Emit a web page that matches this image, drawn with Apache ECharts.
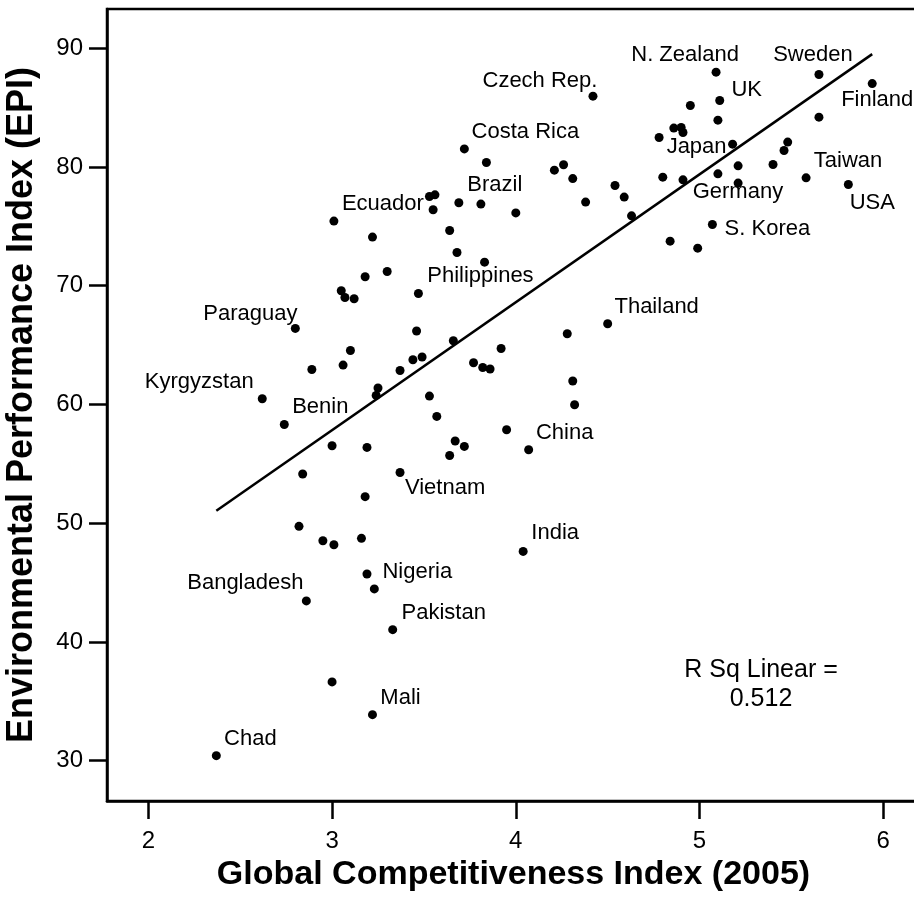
<!DOCTYPE html>
<html>
<head>
<meta charset="utf-8">
<script src="https://cdn.jsdelivr.net/npm/echarts@6/dist/echarts.min.js"></script>
<style>
  html, body { margin: 0; padding: 0; background: #fff; }
  #chart { width: 914px; height: 897px; }
</style>
</head>
<body>
<div id="chart"></div>
<script>
// labelled countries
const labeledNames = ["Chad", "Mali", "Pakistan", "Bangladesh", "Nigeria", "India", "Vietnam", "China",
  "Benin", "Kyrgyzstan", "Paraguay", "Thailand", "Philippines", "Ecuador", "Brazil", "Costa Rica",
  "S. Korea", "Germany", "USA", "Taiwan", "Japan", "UK", "Czech Rep.", "Finland", "Sweden", "N. Zealand"]
const labeledGci = [2.37, 3.22, 3.33, 2.86, 3.23, 4.04, 3.37, 4.07,
  2.74, 2.62, 2.80, 4.50, 3.47, 3.01, 3.69, 3.72,
  5.07, 5.10, 5.81, 5.58, 5.18, 5.11, 4.42, 5.94, 5.65, 5.09]
const labeledEpi = [30.42, 33.87, 41.03, 43.45, 44.46, 47.62, 54.27, 56.18,
  58.31, 60.48, 66.40, 66.79, 69.34, 75.44, 76.98, 81.52,
  75.15, 79.42, 78.52, 79.08, 81.92, 85.59, 85.96, 87.02, 87.78, 87.98]

// unlabelled countries
const otherGci = [3.00, 3.19, 3.01, 2.95, 3.16, 2.82, 3.18, 2.84, 3.64, 3.19,
  3.72, 3.00, 3.67, 3.95, 3.57, 4.32, 3.53, 3.24, 3.25, 4.31,
  2.89, 3.37, 3.86, 3.82, 3.06, 3.77, 3.44, 3.49, 3.10, 3.92,
  3.66, 4.28, 3.46, 3.12, 3.07, 3.05, 3.18, 3.30, 3.83, 3.68,
  4.99, 4.84, 3.22, 3.64, 4.63, 4.00, 3.55, 3.81, 4.38, 3.53,
  3.56, 4.59, 4.54, 5.21, 4.91, 4.31, 4.80, 4.21, 5.21, 4.26,
  5.40, 3.84, 5.46, 5.48, 4.78, 4.91, 4.86, 4.90, 5.10, 5.65,
  4.95]
const otherEpi = [36.63, 45.72, 48.18, 48.52, 48.72, 49.73, 52.23, 54.14, 55.70, 56.38,
  56.46, 56.52, 56.92, 57.87, 58.99, 59.97, 60.70, 60.76, 61.38, 61.97,
  62.94, 62.86, 62.98, 63.11, 63.31, 63.51, 63.76, 63.99, 64.54, 64.71,
  65.36, 65.95, 66.18, 68.90, 69.00, 69.57, 70.75, 71.19, 71.98, 72.79,
  73.16, 73.75, 74.09, 74.65, 75.88, 76.13, 76.39, 76.87, 77.04, 77.51,
  77.65, 77.46, 78.44, 78.64, 78.91, 79.02, 79.14, 79.73, 80.09, 80.18,
  80.20, 80.37, 81.38, 82.09, 82.48, 82.90, 83.27, 83.32, 83.94, 84.19,
  85.17]

// fit line end points
const fitGci = [2.37, 5.94]
const fitEpi = [51.05, 89.5]

const xTicks = [2, 3, 4, 5, 6]
const yTicks = [30, 40, 50, 60, 70, 80, 90]
const rSqText = "R Sq Linear =\n0.512"

// label placement, px from point centre
const labelOffsets = {
  "Chad": [34, -17], "Mali": [28, -17], "Pakistan": [51, -17], "Bangladesh": [-61, -18],
  "Nigeria": [43, -17], "India": [32, -18], "Vietnam": [45, 15], "China": [36, -17],
  "Benin": [36, -18], "Kyrgyzstan": [-63, -17], "Paraguay": [-45, -14], "Thailand": [49, -17],
  "Philippines": [62, -18], "Ecuador": [49, -17], "Brazil": [36, -18], "Costa Rica": [61, -17],
  "S. Korea": [55, 4], "Germany": [20, 18], "USA": [24, 18], "Taiwan": [42, -17],
  "Japan": [-36, 3], "UK": [27, -11], "Czech Rep.": [-53, -15], "Finland": [5, 16],
  "Sweden": [-6, -20], "N. Zealand": [-31, -17],
}

const font = "'Liberation Sans', Arial, sans-serif"
const chart = echarts.init(document.getElementById("chart"), null, { renderer: "canvas" })

const labeledData = labeledNames.map((name, i) => ({
  name,
  value: [labeledGci[i], labeledEpi[i]],
  label: {
    show: true,
    formatter: name,
    position: "inside",
    offset: labelOffsets[name],
    align: "center",
    verticalAlign: "middle",
    color: "#000",
    fontSize: 22,
    fontFamily: font,
    textBorderWidth: 0,
  },
}))
const otherData = otherGci.map((g, i) => [g, otherEpi[i]])

const option = {
  animation: false,
  textStyle: { fontFamily: font },
  grid: {
    left: 107,
    top: 9,
    right: -6,
    bottom: 96,
    containLabel: false,
    outerBoundsMode: "none",
    show: true,
    borderColor: "#000",
    borderWidth: 2.5,
  },
  xAxis: {
    type: "value",
    min: 1.775,
    max: 6.2,
    name: "Global Competitiveness Index (2005)",
    nameLocation: "middle",
    nameGap: 48,
    nameTextStyle: { fontSize: 34, fontWeight: "bold", color: "#000", fontFamily: font },
    axisLine: { show: true, lineStyle: { color: "#000", width: 2.5 } },
    axisTick: { show: true, length: 18, lineStyle: { color: "#000", width: 2.5 }, customValues: xTicks },
    axisLabel: { fontSize: 24, color: "#000", margin: 28, customValues: xTicks, fontFamily: font },
    splitLine: { show: false },
  },
  yAxis: {
    type: "value",
    min: 26.6,
    max: 93.3,
    name: "Environmental Performance Index (EPI)",
    nameLocation: "middle",
    nameGap: 67,
    nameTextStyle: { fontSize: 36, fontWeight: "bold", color: "#000", fontFamily: font },
    axisLine: { show: true, lineStyle: { color: "#000", width: 2.5 } },
    axisTick: { show: true, length: 18, lineStyle: { color: "#000", width: 2.5 }, customValues: yTicks },
    axisLabel: { fontSize: 24, color: "#000", margin: 24, customValues: yTicks, fontFamily: font },
    splitLine: { show: false },
  },
  series: [
    {
      type: "line",
      data: fitGci.map((g, i) => [g, fitEpi[i]]),
      symbol: "none",
      lineStyle: { color: "#000", width: 2.5 },
      z: 1,
    },
    {
      type: "scatter",
      data: otherData,
      symbol: "circle",
      symbolSize: 9,
      itemStyle: { color: "#000", opacity: 1 },
      z: 2,
    },
    {
      type: "scatter",
      data: labeledData,
      symbol: "circle",
      symbolSize: 9,
      itemStyle: { color: "#000", opacity: 1 },
      z: 3,
    },
  ],
  graphic: [
    {
      type: "text",
      x: 761,
      y: 656,
      style: {
        text: rSqText,
        font: "25px " + font,
        fill: "#000",
        align: "center",
        lineHeight: 29,
      },
    },
  ],
}

chart.setOption(option)
</script>
</body>
</html>
